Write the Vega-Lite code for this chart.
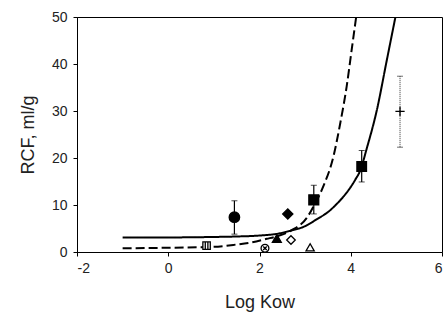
{
  "$schema": "https://vega.github.io/schema/vega-lite/v6.json",
  "width": 365,
  "height": 235,
  "autosize": {"type": "none"},
  "padding": {"left": 77, "top": 17, "right": 4, "bottom": 68},
  "background": "white",
  "config": {
    "view": {"stroke": "black", "strokeWidth": 1},
    "font": "Liberation Sans",
    "axis": {
      "grid": false,
      "domainColor": "black",
      "tickColor": "black",
      "labelColor": "#222",
      "titleColor": "#222",
      "labelFont": "Liberation Sans",
      "titleFont": "Liberation Sans",
      "labelFontSize": 14,
      "titleFontWeight": "normal",
      "tickSize": 4
    }
  },
  "datasets": {
    "curves": [
      {"fit": "solid", "logKow": -1.0, "rcf": 3.1},
      {"fit": "solid", "logKow": 0.0, "rcf": 3.1},
      {"fit": "solid", "logKow": 1.0, "rcf": 3.2},
      {"fit": "solid", "logKow": 1.5, "rcf": 3.3},
      {"fit": "solid", "logKow": 2.0, "rcf": 3.5},
      {"fit": "solid", "logKow": 2.4, "rcf": 3.9},
      {"fit": "solid", "logKow": 2.67, "rcf": 4.5},
      {"fit": "solid", "logKow": 3.0, "rcf": 5.5},
      {"fit": "solid", "logKow": 3.26, "rcf": 7.0},
      {"fit": "solid", "logKow": 3.5, "rcf": 8.5},
      {"fit": "solid", "logKow": 3.69, "rcf": 10.2},
      {"fit": "solid", "logKow": 3.85, "rcf": 11.9},
      {"fit": "solid", "logKow": 3.99, "rcf": 13.7},
      {"fit": "solid", "logKow": 4.1, "rcf": 15.4},
      {"fit": "solid", "logKow": 4.21, "rcf": 17.4},
      {"fit": "solid", "logKow": 4.35, "rcf": 22.0},
      {"fit": "solid", "logKow": 4.57, "rcf": 30.1},
      {"fit": "solid", "logKow": 4.79, "rcf": 40.8},
      {"fit": "solid", "logKow": 5.0, "rcf": 51.0},
      {"fit": "dashed", "logKow": -1.0, "rcf": 0.8},
      {"fit": "dashed", "logKow": 0.0, "rcf": 0.9},
      {"fit": "dashed", "logKow": 1.0, "rcf": 1.1},
      {"fit": "dashed", "logKow": 1.5, "rcf": 1.6},
      {"fit": "dashed", "logKow": 1.8, "rcf": 2.0},
      {"fit": "dashed", "logKow": 2.16, "rcf": 2.8},
      {"fit": "dashed", "logKow": 2.4, "rcf": 3.4},
      {"fit": "dashed", "logKow": 2.7, "rcf": 4.6},
      {"fit": "dashed", "logKow": 3.04, "rcf": 7.3},
      {"fit": "dashed", "logKow": 3.2, "rcf": 10.0},
      {"fit": "dashed", "logKow": 3.4, "rcf": 14.0},
      {"fit": "dashed", "logKow": 3.62, "rcf": 20.3},
      {"fit": "dashed", "logKow": 3.77, "rcf": 27.4},
      {"fit": "dashed", "logKow": 3.91, "rcf": 35.2},
      {"fit": "dashed", "logKow": 4.02, "rcf": 43.0},
      {"fit": "dashed", "logKow": 4.13, "rcf": 50.8}
    ],
    "points": [
      {"compound": "c1", "logKow": 1.45, "rcf": 7.4, "lo": 3.8, "hi": 10.9},
      {"compound": "c2", "logKow": 2.62, "rcf": 8.1},
      {"compound": "c3", "logKow": 3.19, "rcf": 11.1, "lo": 8.1, "hi": 14.2},
      {"compound": "c4", "logKow": 4.24, "rcf": 18.2, "lo": 14.9, "hi": 21.6},
      {"compound": "c5", "logKow": 5.08, "rcf": 29.9, "lo": 22.3, "hi": 37.4},
      {"compound": "c6", "logKow": 2.38, "rcf": 2.9},
      {"compound": "c7", "logKow": 2.69, "rcf": 2.55},
      {"compound": "c8", "logKow": 3.11, "rcf": 1.0},
      {"compound": "c9", "logKow": 2.12, "rcf": 0.8},
      {"compound": "c10", "logKow": 0.84, "rcf": 1.35}
    ]
  },
  "layer": [
    {
      "data": {"name": "curves"},
      "mark": {"type": "line", "clip": true, "color": "black", "strokeWidth": 2, "interpolate": "monotone"},
      "encoding": {
        "x": {"field": "logKow", "type": "quantitative", "scale": {"domain": [-2, 6], "nice": false},
              "axis": {"title": "Log Kow", "values": [-2, 0, 2, 4, 6], "labelExpr": "'' + datum.value", "titleFontSize": 18, "labelPadding": 5, "titlePadding": 18}},
        "y": {"field": "rcf", "type": "quantitative", "scale": {"domain": [0, 50], "nice": false},
              "axis": {"title": "RCF, ml/g", "values": [0, 10, 20, 30, 40, 50], "titleFontSize": 18, "labelPadding": 6, "titlePadding": 14}},
        "strokeDash": {"field": "fit", "type": "nominal", "scale": {"domain": ["solid", "dashed"], "range": [[1, 0], [9, 4]]}, "legend": null},
        "order": {"field": "logKow", "type": "quantitative"}
      }
    },
    {
      "data": {"name": "points"},
      "transform": [{"filter": "datum.lo != null && datum.compound != 'c5'"}],
      "mark": {"type": "errorbar", "ticks": {"color": "black", "size": 6}, "rule": {"color": "black", "strokeWidth": 1.2}},
      "encoding": {
        "x": {"field": "logKow", "type": "quantitative"},
        "y": {"field": "lo", "type": "quantitative", "title": "RCF, ml/g"},
        "y2": {"field": "hi"}
      }
    },
    {
      "data": {"name": "points"},
      "transform": [{"filter": "datum.compound == 'c5'"}],
      "mark": {"type": "errorbar", "ticks": {"color": "#333", "size": 6}, "rule": {"color": "#333", "strokeWidth": 1, "strokeDash": [1, 1]}},
      "encoding": {
        "x": {"field": "logKow", "type": "quantitative"},
        "y": {"field": "lo", "type": "quantitative", "title": "RCF, ml/g"},
        "y2": {"field": "hi"}
      }
    },
    {
      "data": {"name": "points"},
      "mark": {"type": "point", "stroke": "black", "strokeWidth": 1.3, "opacity": 1, "filled": false},
      "encoding": {
        "x": {"field": "logKow", "type": "quantitative"},
        "y": {"field": "rcf", "type": "quantitative"},
        "shape": {"field": "compound", "type": "nominal", "legend": null,
          "scale": {"domain": ["c1", "c2", "c3", "c4", "c5", "c6", "c7", "c8", "c9", "c10"],
                    "range": ["circle", "diamond", "square", "square", "M-1,0H1M0,-1V1", "triangle-up", "diamond", "triangle-up", "M1,0A1,1,0,1,1,-1,0A1,1,0,1,1,1,0ZM-0.45,-0.45L0.45,0.45M0.45,-0.45L-0.45,0.45", "M-1,-1H1V1H-1ZM-0.35,-1V1M0.35,-1V1"]}},
        "fill": {"field": "compound", "type": "nominal", "legend": null,
          "scale": {"domain": ["c1", "c2", "c3", "c4", "c5", "c6", "c7", "c8", "c9", "c10"],
                    "range": ["black", "black", "black", "black", "transparent", "black", "white", "white", "white", "white"]}},
        "size": {"field": "compound", "type": "nominal", "legend": null,
          "scale": {"domain": ["c1", "c2", "c3", "c4", "c5", "c6", "c7", "c8", "c9", "c10"],
                    "range": [110, 55, 75, 95, 70, 60, 60, 60, 75, 75]}}
      }
    }
  ]
}
